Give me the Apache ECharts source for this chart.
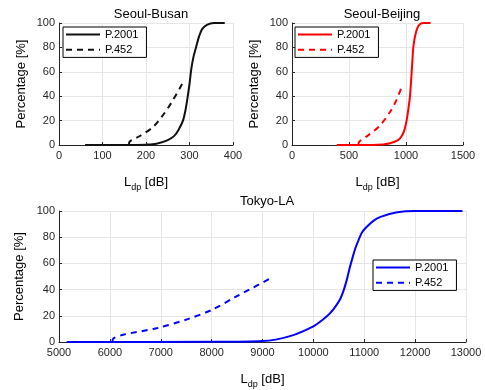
<!DOCTYPE html>
<html>
<head>
<meta charset="utf-8">
<script src="https://cdn.jsdelivr.net/npm/echarts@6/dist/echarts.min.js"></script>
<style>
  html, body { margin: 0; padding: 0; background: #fff; }
  #chart { width: 485px; height: 390px; }
</style>
</head>
<body>
<div id="chart"></div>
<script>
// Seoul-Busan
const busanX2001 = [60, 150, 200, 224, 250, 265, 275, 285, 291, 296, 300, 304, 309, 315, 322, 329, 340, 356, 381]
const busanY2001 = [0, 0, 0.3, 1, 4, 7.5, 12.5, 20, 29, 40, 50, 62, 72, 80, 89, 95, 98.5, 100, 100]
const busanX452 = [161, 162, 186, 217, 240, 259, 283]
const busanY452 = [0, 2.5, 7.4, 15, 25, 35, 50]

// Seoul-Beijing
const beijingX2001 = [393, 700, 800, 859, 930, 960, 985, 1005, 1020, 1034, 1042, 1049, 1056, 1063, 1073, 1084, 1100, 1121, 1160, 1215]
const beijingY2001 = [0, 0.1, 0.5, 1.4, 4, 7, 12, 20, 29, 39, 49, 59, 69, 79, 86, 91, 96, 99, 100, 100]
const beijingX452 = [583, 585, 670, 772, 859, 917, 970]
const beijingY452 = [0, 2, 8, 16, 27, 37, 49.5]

// Tokyo-LA
const tokyoX2001 = [5150, 8000, 9000, 9540, 10000, 10200, 10330, 10450, 10530, 10600, 10660, 10710, 10760, 10820, 10890, 10960, 11050, 11180, 11320, 11650, 12000, 12930]
const tokyoY2001 = [0, 0.1, 0.7, 4.5, 12, 17.5, 22, 28, 33, 40, 48, 56, 63, 71, 78, 84, 88, 92.5, 95.5, 99, 100, 100]
const tokyoX452 = [6050, 6070, 6280, 6940, 7530, 8000, 8450, 9130]
const tokyoY452 = [0, 2.7, 5.7, 10.7, 17.5, 24.4, 34, 48]

const titles = ['Seoul-Busan', 'Seoul-Beijing', 'Tokyo-LA']
const colors = ['#111', '#ff0000', '#0000ff']
const yTicks = [0, 20, 40, 60, 80, 100]

const zip = (xs, ys) => xs.map((x, i) => [x, ys[i]])
const font = 'Liberation Sans, Arial, sans-serif'
const axisColor = '#262626'

const grids = [
  { left: 59, top: 23, width: 174, height: 122 },
  { left: 292, top: 23, width: 171, height: 122 },
  { left: 59, top: 211, width: 407, height: 133 },
]
const xRanges = [[0, 400, 100], [0, 1500, 500], [5000, 13000, 1000]]

const xAxis = xRanges.map(([min, max, interval], i) => ({
  type: 'value',
  gridIndex: i,
  min, max, interval,
  name: '{a|L}{b|dp}{a| [dB]}',
  nameLocation: 'middle',
  nameGap: 28,
  nameTextStyle: {
    rich: {
      a: { fontSize: 13, color: '#000', fontFamily: font },
      b: { fontSize: 9, color: '#000', fontFamily: font, padding: [10, 0, 0, 0] },
    },
  },
  axisLine: { show: true, lineStyle: { color: axisColor } },
  axisTick: { show: true, inside: true, length: 3, lineStyle: { color: axisColor } },
  axisLabel: { fontSize: 11, color: axisColor, fontFamily: font, margin: 5,
    showMinLabel: true, showMaxLabel: true, formatter: v => String(v) },
  splitLine: { show: true, lineStyle: { color: '#e6e6e6' } },
}))

const yAxis = grids.map((g, i) => ({
  type: 'value',
  gridIndex: i,
  min: yTicks[0], max: yTicks[yTicks.length - 1], interval: 20,
  name: 'Percentage [%]',
  nameLocation: 'middle',
  nameGap: 31,
  nameTextStyle: { fontSize: 13, color: '#000', fontFamily: font },
  axisLine: { show: true, lineStyle: { color: axisColor } },
  axisTick: { show: true, inside: true, length: 3, lineStyle: { color: axisColor } },
  axisLabel: { fontSize: 11, color: axisColor, fontFamily: font, margin: 4 },
  splitLine: { show: true, lineStyle: { color: '#e6e6e6' } },
}))

const seriesData = [
  [zip(busanX2001, busanY2001), zip(busanX452, busanY452)],
  [zip(beijingX2001, beijingY2001), zip(beijingX452, beijingY452)],
  [zip(tokyoX2001, tokyoY2001), zip(tokyoX452, tokyoY452)],
]

const series = []
seriesData.forEach(([solid, dashed], i) => {
  series.push({
    name: titles[i] + '|P.2001', type: 'line', xAxisIndex: i, yAxisIndex: i,
    data: solid, symbol: 'none', smooth: 0.3,
    lineStyle: { color: colors[i], width: 2, type: 'solid' },
    itemStyle: { color: colors[i] },
  })
  series.push({
    name: titles[i] + '|P.452', type: 'line', xAxisIndex: i, yAxisIndex: i,
    data: dashed, symbol: 'none', smooth: 0.3,
    lineStyle: { color: colors[i], width: 2, type: [6, 5] },
    itemStyle: { color: colors[i] },
  })
})

const legendPos = [{ left: 63, top: 27 }, { left: 295, top: 27 }, { left: 373, top: 260 }]
const legend = legendPos.map((p, i) => ({
  ...p,
  orient: 'vertical',
  data: [titles[i] + '|P.2001', titles[i] + '|P.452'],
  formatter: (name) => name.split('|')[1],
  backgroundColor: '#fff',
  borderColor: '#000',
  borderWidth: 1,
  padding: [2, 8, 2, 2],
  itemWidth: 34,
  itemHeight: 14,
  itemGap: 4,
  selectedMode: false,
  itemStyle: { opacity: 0 },
  textStyle: { fontSize: 11, color: '#000', fontFamily: font },
}))

const title = [
  { text: titles[0], left: 146, top: 3 },
  { text: titles[1], left: 377, top: 3 },
  { text: titles[2], left: 262, top: 190 },
].map(t => ({
  ...t,
  textAlign: 'center',
  textStyle: { fontSize: 13, fontWeight: 'normal', color: '#000', fontFamily: font },
}))

const chart = echarts.init(document.getElementById('chart'))
chart.setOption({
  backgroundColor: '#fff',
  animation: false,
  title,
  legend,
  grid: grids,
  xAxis,
  yAxis,
  series,
})
</script>
</body>
</html>
